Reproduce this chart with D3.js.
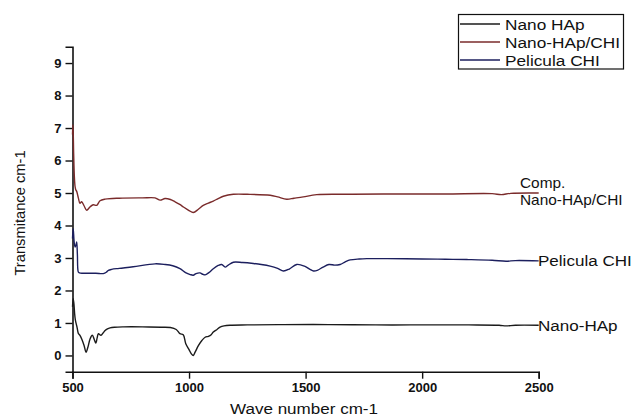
<!DOCTYPE html>
<html>
<head>
<meta charset="utf-8">
<script src="https://cdn.jsdelivr.net/npm/d3@7/dist/d3.min.js"></script>
<style>
  html, body { margin: 0; padding: 0; background: #fff; }
  svg { display: block; font-family: "Liberation Sans", Arial, sans-serif; }
</style>
</head>
<body>
<svg id="chart" width="637" height="416"></svg>
<script>
// FTIR spectra: wave number (cm-1) vs transmitance, three samples offset vertically
const hapWave = [500, 503, 506, 509, 512, 515, 520, 525, 532, 540, 550, 558, 566, 575, 585, 593, 600, 606, 611, 622, 632, 640, 650, 661, 680, 720, 800, 880, 920, 945, 961, 975, 986, 1000, 1010, 1018, 1026, 1040, 1055, 1069, 1083, 1095, 1104, 1120, 1133, 1150, 1176, 1250, 1400, 1600, 1800, 2000, 2200, 2330, 2360, 2400, 2500];
const hapT    = [1.5, 1.75, 1.6, 1.3, 1.1, 1.0, 0.85, 0.68, 0.62, 0.5, 0.3, 0.1, 0.25, 0.5, 0.62, 0.5, 0.38, 0.55, 0.67, 0.62, 0.7, 0.77, 0.82, 0.85, 0.87, 0.88, 0.88, 0.87, 0.86, 0.8, 0.67, 0.64, 0.36, 0.18, 0.05, 0.0, 0.1, 0.3, 0.46, 0.56, 0.59, 0.64, 0.72, 0.8, 0.87, 0.91, 0.93, 0.94, 0.95, 0.95, 0.94, 0.94, 0.94, 0.93, 0.91, 0.93, 0.93];

const chiWave = [500, 503, 507, 511, 515, 518, 521, 525, 530, 545, 600, 632, 645, 654, 668, 700, 760, 854, 897, 930, 961, 985, 1005, 1018, 1030, 1047, 1058, 1069, 1085, 1104, 1125, 1140, 1155, 1168, 1190, 1230, 1276, 1310, 1348, 1380, 1405, 1430, 1462, 1495, 1519, 1534, 1550, 1575, 1600, 1625, 1648, 1670, 1691, 1730, 1763, 1850, 2000, 2100, 2200, 2300, 2360, 2400, 2500];
const chiT    = [3.6, 3.9, 3.5, 3.34, 3.4, 3.49, 3.1, 2.57, 2.54, 2.53, 2.53, 2.52, 2.56, 2.62, 2.65, 2.68, 2.73, 2.82, 2.8, 2.76, 2.67, 2.55, 2.49, 2.47, 2.52, 2.54, 2.5, 2.48, 2.55, 2.67, 2.77, 2.8, 2.72, 2.78, 2.87, 2.86, 2.83, 2.8, 2.75, 2.68, 2.6, 2.66, 2.8, 2.75, 2.65, 2.6, 2.62, 2.72, 2.8, 2.78, 2.8, 2.88, 2.94, 2.97, 2.98, 2.98, 2.97, 2.96, 2.95, 2.93, 2.9, 2.92, 2.91];

const compWave = [500, 502, 505, 508, 511, 514, 518, 525, 532, 539, 550, 561, 575, 589, 604, 618, 640, 700, 800, 854, 876, 897, 920, 940, 960, 976, 1000, 1018, 1040, 1061, 1083, 1104, 1125, 1147, 1190, 1250, 1348, 1380, 1419, 1450, 1490, 1548, 1700, 1900, 2100, 2300, 2340, 2380, 2500];
const compT    = [6.8, 7.1, 6.2, 5.5, 5.2, 5.1, 5.05, 4.85, 4.68, 4.73, 4.6, 4.47, 4.57, 4.64, 4.62, 4.76, 4.81, 4.84, 4.85, 4.85, 4.78, 4.83, 4.8, 4.73, 4.65, 4.57, 4.46, 4.4, 4.5, 4.62, 4.69, 4.75, 4.83, 4.9, 4.96, 4.96, 4.93, 4.88, 4.81, 4.84, 4.88, 4.95, 4.96, 4.97, 4.97, 4.98, 4.95, 4.99, 5.0];

const legendNames = ["Nano HAp", "Nano-HAp/CHI", "Pelicula CHI"];
const lineColors  = ["#1b1b1b", "#7a2b2b", "#1c1f5e"];
const xTicks = [500, 1000, 1500, 2000, 2500];
const yTicks = [0, 1, 2, 3, 4, 5, 6, 7, 8, 9];

const series = [
  { name: legendNames[0], wave: hapWave,  t: hapT,  color: lineColors[0] },
  { name: legendNames[1], wave: compWave, t: compT, color: lineColors[1] },
  { name: legendNames[2], wave: chiWave,  t: chiT,  color: lineColors[2] }
];

const svg = d3.select("#chart");
const plot = { left: 72.5, right: 538.7, top: 46.8, bottom: 371.7 };

const x = d3.scaleLinear().domain([500, 2500]).range([plot.left, plot.right]);
const y = d3.scaleLinear().domain([-0.5, 9.5]).range([plot.bottom, plot.top]);

// Minor ticks halfway between the labelled ones
const xMinor = d3.range(750, 2500, 500);
const yMinor = d3.range(-0.5, 9.6, 1);

const gx = svg.append("g").attr("transform", `translate(0,${plot.bottom})`);
gx.call(d3.axisBottom(x).tickValues(xMinor).tickSize(4).tickFormat(""));
gx.call(d3.axisBottom(x).tickValues(xTicks).tickSize(7).tickPadding(4).tickFormat(d3.format("d")));

const gy = svg.append("g").attr("transform", `translate(${plot.left},0)`);
gy.call(d3.axisLeft(y).tickValues(yMinor).tickSize(4).tickFormat(""));
gy.call(d3.axisLeft(y).tickValues(yTicks).tickSize(7).tickPadding(4).tickFormat(d3.format("d")));

svg.selectAll(".domain").attr("stroke", "#111").attr("stroke-width", 1.6);
svg.selectAll(".tick line").attr("stroke", "#111").attr("stroke-width", 1.4);
svg.selectAll(".tick text")
  .attr("fill", "#111")
  .style("font-size", "13px")
  .style("font-weight", "bold")
  .style("font-family", "'Liberation Sans', Arial, sans-serif");

// Spectra
const line = d3.line()
  .x(d => x(d[0]))
  .y(d => y(d[1]))
  .curve(d3.curveCatmullRom.alpha(0.5));

series.forEach(s => {
  const pts = s.wave.map((w, i) => [w, s.t[i]]);
  svg.append("path")
    .datum(pts)
    .attr("fill", "none")
    .attr("stroke", s.color)
    .attr("stroke-width", 1.4)
    .attr("stroke-linejoin", "round")
    .attr("d", line);
});

// Horizontally widened text, as in the original figure export
function wideText(parent, tx, ty, str, size, sx) {
  return parent.append("text")
    .attr("transform", `translate(${tx},${ty}) scale(${sx},1)`)
    .style("font-size", size)
    .attr("fill", "#111")
    .text(str);
}

// End-of-curve labels
wideText(svg, 520, 188, "Comp.", "14px", 1.1);
wideText(svg, 520, 204.5, "Nano-HAp/CHI", "14px", 1.1);
wideText(svg, 538, y(chiT[chiT.length - 1]) + 5.5, "Pelicula CHI", "15.5px", 1.1);
wideText(svg, 538, y(hapT[hapT.length - 1]) + 5.5, "Nano-HAp", "15.5px", 1.1);

// Axis titles
wideText(svg, 304, 413.5, "Wave number cm-1", "15.5px", 1.1).attr("text-anchor", "middle");

svg.append("text")
  .attr("transform", "translate(25,213) rotate(-90)")
  .attr("text-anchor", "middle")
  .style("font-size", "14.7px")
  .attr("fill", "#111")
  .text("Transmitance cm-1");

// Legend
const legend = svg.append("g");
legend.append("rect")
  .attr("x", 458.5).attr("y", 14.5).attr("width", 165).attr("height", 54.5)
  .attr("fill", "#fff").attr("stroke", "#111").attr("stroke-width", 1.2);
series.forEach((s, i) => {
  const ly = 24 + i * 18;
  legend.append("line")
    .attr("x1", 460).attr("x2", 500).attr("y1", ly).attr("y2", ly)
    .attr("stroke", s.color).attr("stroke-width", 1.4);
  wideText(legend, 505, ly + 5.5, s.name, "15px", 1.15);
});
</script>
</body>
</html>
